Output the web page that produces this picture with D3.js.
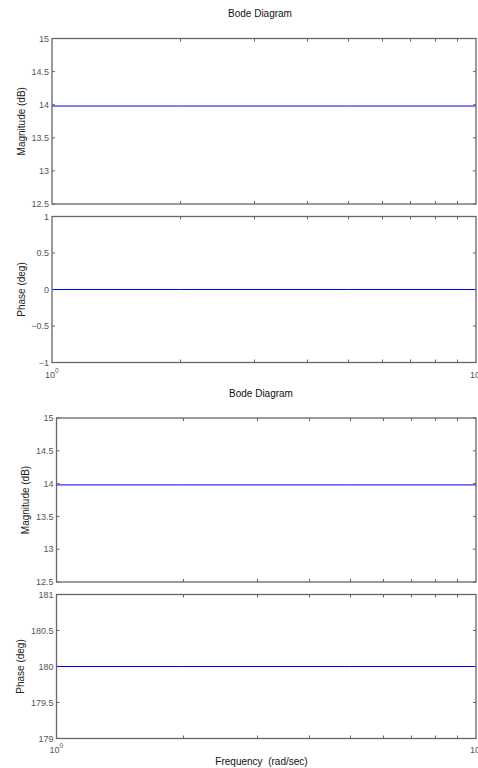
<!DOCTYPE html>
<html>
<head>
<meta charset="utf-8">
<script src="https://cdn.jsdelivr.net/npm/d3@7"></script>
<style>
  html, body { margin: 0; padding: 0; background: #fff; }
  svg { display: block; font-family: "Liberation Sans", Arial, sans-serif; }
</style>
</head>
<body>
<svg id="chart" width="478" height="768"></svg>
<script>
// Frequency grid (rad/sec) and the two flat responses
const freq = [1, 2, 5, 10];
const magA = [13.98, 13.98, 13.98, 13.98];
const phaseA = [0, 0, 0, 0];
const magB = [13.98, 13.98, 13.98, 13.98];
const phaseB = [180, 180, 180, 180];

// Axis limits and tick values
const magDomain = [12.5, 15];
const magTicks = [12.5, 13, 13.5, 14, 14.5, 15];
const phaseADomain = [-1, 1];
const phaseATicks = [-1, -0.5, 0, 0.5, 1];
const phaseBDomain = [179, 181];
const phaseBTicks = [179, 179.5, 180, 180.5, 181];
const freqDomain = [1, 10];
const freqMinorTicks = [2, 3, 4, 5, 6, 7, 8, 9];

const titles = ["Bode Diagram", "Bode Diagram"];
const magLabel = "Magnitude (dB)";
const phaseLabel = "Phase (deg)";
const freqLabel = "Frequency  (rad/sec)";

const svg = d3.select("#chart");
const frameColor = "#666";
const tickTextColor = "#555";
const lineColor = "#0000ff";

function panel(box, domainY, ticksY, xs, ys, opts) {
  const x = d3.scaleLog().domain(freqDomain).range([box.x0, box.x1]);
  const y = d3.scaleLinear().domain(domainY).range([box.y1, box.y0]);
  const g = svg.append("g");

  // inward ticks on all four sides
  const tl = 3;
  const ax = g.append("g").attr("stroke", frameColor).attr("stroke-width", 1);
  freqMinorTicks.forEach(f => {
    const px = Math.round(x(f)) + 0.5;
    ax.append("line").attr("x1", px).attr("x2", px).attr("y1", box.y1).attr("y2", box.y1 - tl);
    ax.append("line").attr("x1", px).attr("x2", px).attr("y1", box.y0).attr("y2", box.y0 + tl);
  });
  ticksY.forEach(v => {
    const py = y(v);
    ax.append("line").attr("x1", box.x0).attr("x2", box.x0 + tl).attr("y1", py).attr("y2", py);
    ax.append("line").attr("x1", box.x1).attr("x2", box.x1 - tl).attr("y1", py).attr("y2", py);
  });

  // y tick labels
  const fmt = d3.format("");
  g.append("g").selectAll("text").data(ticksY).join("text")
    .attr("x", box.x0 - 3)
    .attr("y", d => y(d))
    .attr("dy", "0.35em")
    .attr("text-anchor", "end")
    .attr("font-size", 9)
    .attr("fill", tickTextColor)
    .text(d => fmt(d));

  // response line
  g.append("path")
    .datum(xs.map((f, i) => [f, ys[i]]))
    .attr("fill", "none")
    .attr("stroke", lineColor)
    .attr("stroke-width", 1)
    .attr("d", d3.line().x(d => x(d[0])).y(d => y(d[1])));

  // frame
  g.append("rect")
    .attr("x", box.x0).attr("y", box.y0)
    .attr("width", box.x1 - box.x0).attr("height", box.y1 - box.y0)
    .attr("fill", "none").attr("stroke", frameColor).attr("stroke-width", 1.3);

  // y axis label
  g.append("text")
    .attr("transform", `translate(${opts.labelX},${(box.y0 + box.y1) / 2}) rotate(-90)`)
    .attr("text-anchor", "middle")
    .attr("dy", "0.35em")
    .attr("font-size", 10)
    .attr("fill", "#222")
    .text(opts.label);

  // decade labels under the phase panels
  if (opts.decades) {
    [[1, 0], [10, 1]].forEach(([f, e]) => {
      const t = g.append("text")
        .attr("x", x(f) + (f === 1 ? -7 : -6))
        .attr("y", box.y1 + opts.decadeDy)
        .attr("font-size", 9)
        .attr("fill", tickTextColor);
      t.append("tspan").text("10");
      t.append("tspan").attr("dy", -5).attr("font-size", 6.5).text(String(e));
    });
  }
  return { x, y };
}

// upper Bode diagram
svg.append("text").attr("x", 260).attr("y", 16.5).attr("text-anchor", "middle")
  .attr("font-size", 10).attr("fill", "#111").text(titles[0]);
panel({ x0: 52, x1: 476, y0: 38.5, y1: 204 }, magDomain, magTicks, freq, magA,
  { label: magLabel, labelX: 21 });
panel({ x0: 52, x1: 476, y0: 216.5, y1: 362.5 }, phaseADomain, phaseATicks, freq, phaseA,
  { label: phaseLabel, labelX: 21, decades: true, decadeDy: 15 });

// lower Bode diagram
svg.append("text").attr("x", 261).attr("y", 397).attr("text-anchor", "middle")
  .attr("font-size", 10).attr("fill", "#111").text(titles[1]);
panel({ x0: 56.5, x1: 476, y0: 418, y1: 582 }, magDomain, magTicks, freq, magB,
  { label: magLabel, labelX: 25 });
panel({ x0: 56.5, x1: 476, y0: 594.5, y1: 738.5 }, phaseBDomain, phaseBTicks, freq, phaseB,
  { label: phaseLabel, labelX: 20, decades: true, decadeDy: 14.5 });

svg.append("text").attr("x", 261.5).attr("y", 765).attr("text-anchor", "middle")
  .attr("font-size", 10).attr("fill", "#111")
  .style("white-space", "pre")
  .text(freqLabel);
</script>
</body>
</html>
